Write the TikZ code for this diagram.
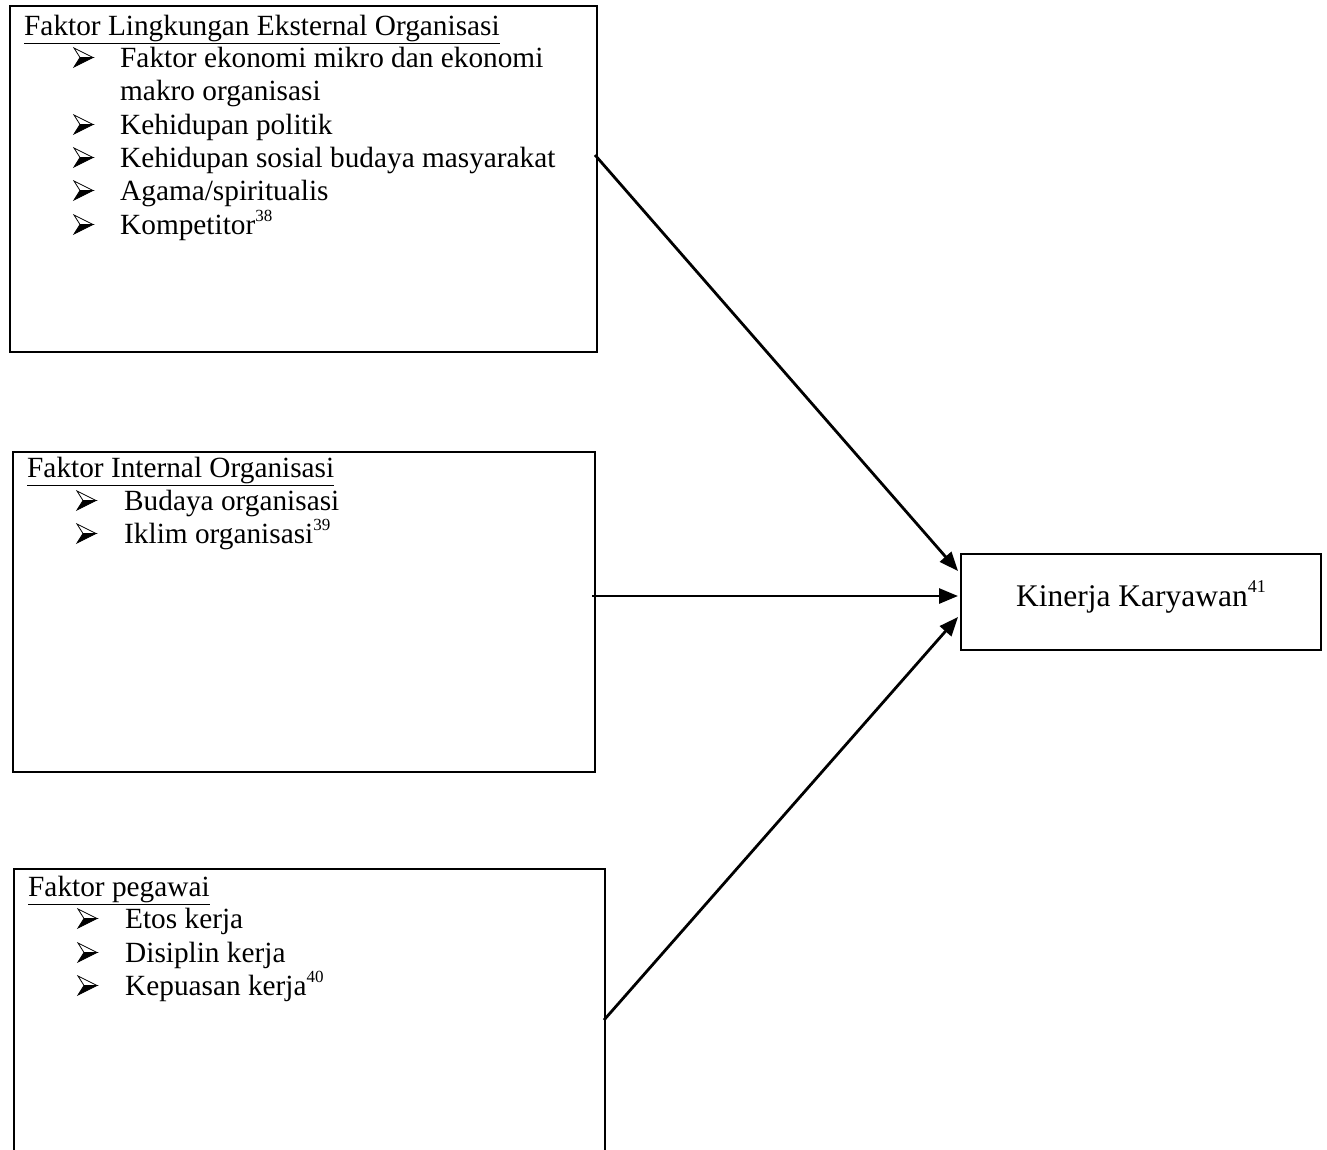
\documentclass[tikz,border=0pt]{standalone}
\usepackage{fontspec}
\setmainfont{Liberation Serif}
\usetikzlibrary{arrows.meta}
\newcommand\supnum[1]{\raisebox{0.42em}{\fontsize{17}{17}\selectfont #1}}
\begin{document}
\begin{tikzpicture}[x=1pt,y=-1pt,
  box/.style={draw, line width=2pt, rectangle, anchor=north west, inner sep=0pt},
  txt/.style={anchor=base west, inner sep=0pt, font=\fontsize{29.3}{33}\selectfont},
  conn/.style={line width=2.8pt, -{Triangle[length=19pt,width=15pt]}},
  arrb/.pic={
    \draw[line width=0.8pt, line join=miter] (0,-19) -- (19,-9.5) -- (6,-9.5) -- cycle;
    \fill (6,-9.5) -- (19,-9.5) -- (0,0) -- cycle;
    \draw[line width=0.8pt, line join=miter] (6,-9.5) -- (19,-9.5) -- (0,0) -- cycle;
  }]
\clip (0,0) rectangle (1327,1149);
\fill[white] (0,0) rectangle (1327,1149);
% boxes
\node[box, minimum width=587pt, minimum height=346pt] (ext) at (9,5) {};
\node[box, minimum width=582pt, minimum height=320pt] (int) at (12,451) {};
\node[box, minimum width=591pt, minimum height=340pt] (peg) at (13,868) {};
\node[box, minimum width=360pt, minimum height=96pt] (kin) at (960,553) {};
\node[anchor=base, inner sep=0pt, font=\fontsize{31.5}{36}\selectfont] (kt) at (1141,606) {Kinerja Karyawan\raisebox{0.42em}{\fontsize{18}{18}\selectfont 41}};
% box 1 text
\node[txt] (h1) at (24,35) {\underline{Faktor Lingkungan Eksternal Organisasi}};
\pic at (74,67) {arrb};
\node[txt] (t11) at (120,67) {Faktor ekonomi mikro dan ekonomi};
\node[txt] (t11b) at (120,100) {makro organisasi};
\pic at (74,134) {arrb};
\node[txt] (t12) at (120,134) {Kehidupan politik};
\pic at (74,167) {arrb};
\node[txt] (t13) at (120,167) {Kehidupan sosial budaya masyarakat};
\pic at (74,200) {arrb};
\node[txt] (t14) at (120,200) {Agama/spiritualis};
\pic at (74,234) {arrb};
\node[txt] (t15) at (120,234) {Kompetitor\supnum{38}};
% box 2 text
\node[txt] (h2) at (27,477) {\underline{Faktor Internal Organisasi}};
\pic at (77,510) {arrb};
\node[txt] (t21) at (124,510) {Budaya organisasi};
\pic at (77,543) {arrb};
\node[txt] (t22) at (124,543) {Iklim organisasi\supnum{39}};
% box 3 text
\node[txt] (h3) at (28,896) {\underline{Faktor pegawai}};
\pic at (78,928) {arrb};
\node[txt] (t31) at (125,928) {Etos kerja};
\pic at (78,962) {arrb};
\node[txt] (t32) at (125,962) {Disiplin kerja};
\pic at (78,995) {arrb};
\node[txt] (t33) at (125,995) {Kepuasan kerja\supnum{40}};
% connectors
\coordinate (s1) at (595,155);
\coordinate (s2) at (592,596);
\coordinate (s3) at (604,1020);
\coordinate (e1) at (958,571);
\coordinate (e2) at (958,596);
\coordinate (e3) at (958,617);
\draw[conn] (s1) -- (e1);
\draw[conn] (s2) -- (e2);
\draw[conn] (s3) -- (e3);
\end{tikzpicture}
\end{document}
